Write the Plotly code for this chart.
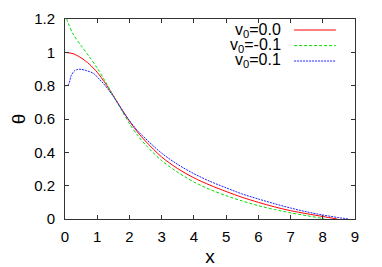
import plotly.graph_objects as go

# ---- data ----
x_red = [0, 0.25, 0.5, 0.75, 1.0, 1.25, 1.5, 1.75, 2.0, 2.25, 2.5, 3.0, 3.5, 4.0,
         4.5, 5.0, 5.5, 6.0, 6.5, 7.0, 7.5, 8.0, 8.45]
y_red = [1.0, 0.992, 0.967, 0.93, 0.88, 0.815, 0.74, 0.662, 0.587, 0.522, 0.467,
         0.372, 0.302, 0.247, 0.203, 0.165, 0.13, 0.10, 0.073, 0.05, 0.032, 0.015, 0.0]

x_green = [0, 0.1, 0.25, 0.5, 0.75, 1.0, 1.25, 1.5, 1.75, 2.0, 2.25, 2.5, 3.0, 3.5,
           4.0, 4.5, 5.0, 5.5, 6.0, 6.5, 7.0, 7.5, 8.0, 8.05]
y_green = [1.23, 1.175, 1.11, 1.04, 0.975, 0.905, 0.825, 0.74, 0.655, 0.572, 0.503,
           0.445, 0.35, 0.28, 0.222, 0.177, 0.14, 0.108, 0.08, 0.057, 0.037, 0.02,
           0.003, 0.0]

x_blue = [0, 0.1, 0.2, 0.3, 0.41, 0.5, 0.67, 0.88, 1.09, 1.25, 1.5, 1.75, 2.0, 2.25,
          2.5, 3.0, 3.5, 4.0, 4.5, 5.0, 5.5, 6.0, 6.5, 7.0, 7.5, 8.0, 8.5, 8.8]
y_blue = [0.80, 0.804, 0.864, 0.89, 0.898, 0.898, 0.89, 0.874, 0.834, 0.80, 0.735,
          0.66, 0.59, 0.53, 0.482, 0.395, 0.327, 0.272, 0.226, 0.187, 0.15, 0.12,
          0.092, 0.066, 0.043, 0.024, 0.008, 0.0]

labels = ["v<sub>0</sub>=0.0", "v<sub>0</sub>=-0.1", "v<sub>0</sub>=0.1"]
colors = ["#ff0000", "#00e000", "#2020ff"]
dashes = ["solid", "3px,2px", "2px,1px"]

x_ticks = list(range(0, 10))
y_ticks = [0, 0.2, 0.4, 0.6, 0.8, 1.0, 1.2]
y_ticktext = ["0", "0.2", "0.4", "0.6", "0.8", "1", "1.2"]

FONT = "Liberation Sans, Arial, Helvetica, sans-serif"

fig = go.Figure()
series = [(x_red, y_red), (x_green, y_green), (x_blue, y_blue)]
for (xs, ys), name, c, d in zip(series, labels, colors, dashes):
    fig.add_trace(go.Scatter(x=xs, y=ys, mode="lines", name=name,
                             line=dict(color=c, width=1, dash=d, shape="spline",
                                       smoothing=0.8),
                             showlegend=False))

# legend drawn gnuplot-style: right-aligned text, sample to its right
row_y = [0.945, 0.867, 0.79]
for name, c, d, yy in zip(labels, colors, dashes, row_y):
    fig.add_annotation(xref="paper", yref="paper", x=0.752, y=yy, text=name,
                       showarrow=False, xanchor="right", yanchor="middle",
                       font=dict(family=FONT, size=16, color="#000"))
    fig.add_shape(type="line", xref="paper", yref="paper", x0=0.79, x1=0.934,
                  y0=yy, y1=yy, line=dict(color=c, width=1, dash=d))

axis_common = dict(showline=True, linecolor="#333", linewidth=1, mirror="ticks",
                   ticks="inside", ticklen=4, tickcolor="#333", tickwidth=1,
                   showgrid=False, zeroline=False, automargin=False,
                   tickfont=dict(family=FONT, size=15, color="#000"))

fig.update_xaxes(range=[0, 9], tickvals=x_ticks, ticktext=[str(v) for v in x_ticks],
                 title=dict(text="x", font=dict(family=FONT, size=19, color="#000"),
                            standoff=6),
                 ticklabelstandoff=4, **axis_common)
fig.update_yaxes(range=[0, 1.2], tickvals=y_ticks, ticktext=y_ticktext,
                 title=dict(text="θ", font=dict(family=FONT, size=19, color="#000"),
                            standoff=8),
                 ticklabelstandoff=6, **axis_common)

# page body has an 8px margin; size the figure so the plot lands where it should
fig.update_layout(width=374, height=259,
                  margin=dict(l=57, r=27, t=11, b=48),
                  plot_bgcolor="white", paper_bgcolor="white")

fig.write_html("out.html")
